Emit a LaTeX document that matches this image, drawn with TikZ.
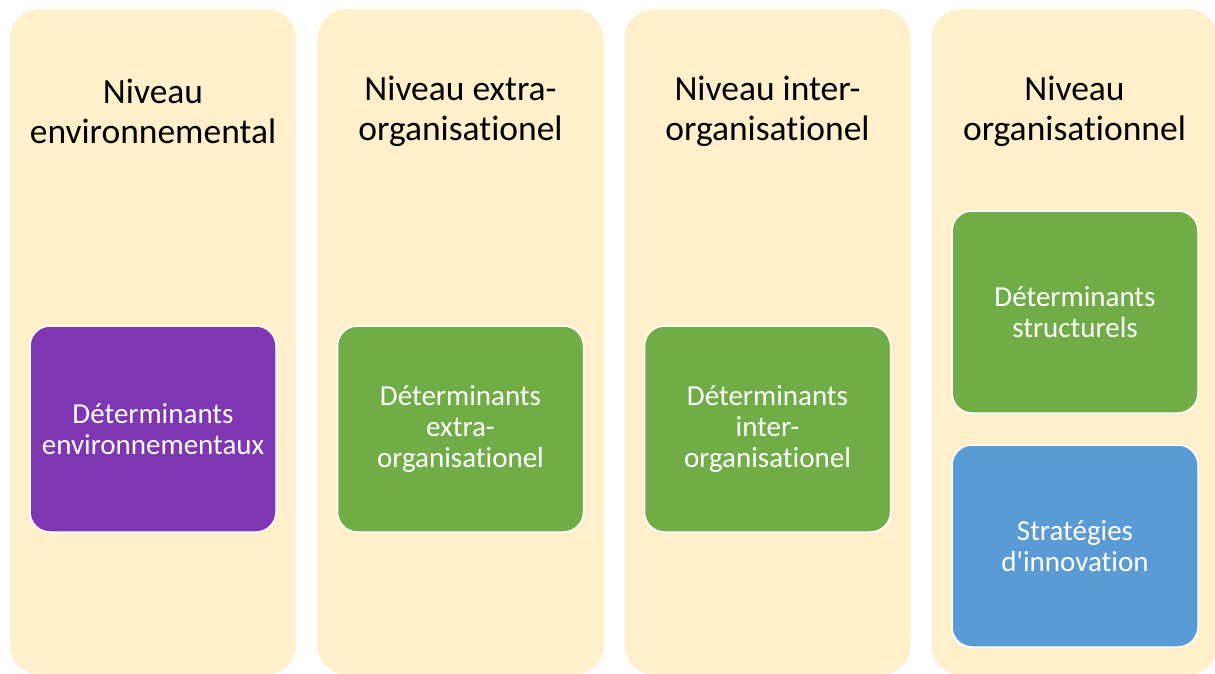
\documentclass[tikz,border=0pt]{standalone}
\usepackage{fontspec}
\newfontfamily\carl{Carlito}[Ligatures=NoCommon]
\definecolor{cream}{HTML}{FFF0CB}
\definecolor{purp}{HTML}{7E36B3}
\definecolor{grn}{HTML}{70AD47}
\definecolor{blu}{HTML}{5B9BD5}
\tikzset{
  colbox/.style={fill=cream, draw=none, rounded corners=30pt, minimum width=286pt, minimum height=666pt, inner sep=0pt},
  title/.style={text=black, align=center, font=\carl\fontsize{35.5}{40}\selectfont, inner sep=0pt},
  inbox/.style={draw=white, line width=1.5pt, rounded corners=20pt, minimum width=246pt, minimum height=206pt, text=white, align=center, font=\carl\fontsize{29}{31}\selectfont, inner sep=0pt},
}
\begin{document}
\begin{tikzpicture}[x=1pt,y=-1pt]
\useasboundingbox[fill=white] (0,0) rectangle (1215,674);
\node[colbox] (c1) at (153,342) {};
\node[colbox] (c2) at (460.5,342) {};
\node[colbox] (c3) at (767.5,342) {};
\node[colbox] (c4) at (1074.5,342) {};
\node[title] (t1) at (153,111) {Niveau\\environnemental};
\node[title] (t2) at (460.5,111) {Niveau extra-\\organisationel};
\node[title] (t3) at (767.5,111) {Niveau inter-\\organisationel};
\node[title] (t4) at (1074.5,111) {Niveau\\organisationnel};
\node[inbox, fill=purp] (b1) at (153,429) {Déterminants\\environnementaux};
\node[inbox, fill=grn] (b2) at (460.5,429) {Déterminants\\extra-\\organisationel};
\node[inbox, fill=grn] (b3) at (767.5,429) {Déterminants\\inter-\\organisationel};
\node[inbox, fill=grn, minimum height=202pt] (b4) at (1075,312) {Déterminants\\structurels};
\node[inbox, fill=blu, minimum height=202pt] (b5) at (1075,546) {Stratégies\\d'innovation};
\end{tikzpicture}
\end{document}
